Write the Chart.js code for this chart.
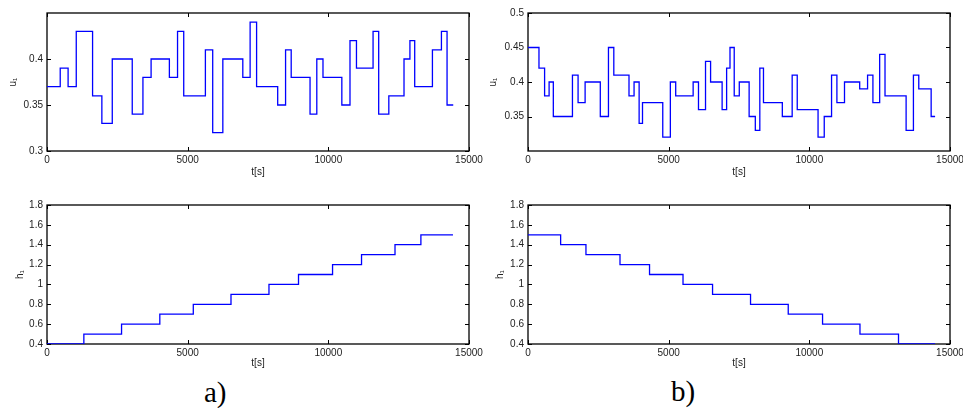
<!DOCTYPE html>
<html>
<head>
<meta charset="utf-8">
<script src="https://cdn.jsdelivr.net/npm/chart.js@4.4.0/dist/chart.umd.min.js"></script>
<style>
  body { margin: 0; background: #fff; width: 963px; height: 408px; position: relative; overflow: hidden; }
  canvas { position: absolute; }
  .tag { position: absolute; font-family: "Liberation Serif", "Times New Roman", serif; font-size: 29px; color: #000; line-height: 1; }
</style>
</head>
<body>
<canvas id="ua" width="500" height="180" style="left:0;top:0"></canvas>
<canvas id="ub" width="483" height="180" style="left:480px;top:0"></canvas>
<canvas id="ha" width="500" height="190" style="left:0;top:180px"></canvas>
<canvas id="hb" width="483" height="190" style="left:480px;top:180px"></canvas>
<div class="tag" style="left:204px;top:378px">a)</div>
<div class="tag" style="left:671px;top:377px">b)</div>
<script>
// time axis
const xTicks = [0, 5000, 10000, 15000];

// a) input u1: switching times [s] and held values
const uaTimes = [0, 470, 750, 1040, 1620, 1950, 2320, 3030, 3410, 3700,
  4350, 4640, 4860, 5630, 5890, 6250, 6960, 7220, 7450, 8200,
  8480, 8680, 9350, 9590, 9810, 10480, 10770, 11000, 11590, 11790,
  12150, 12690, 12900, 13070, 13700, 14020, 14220];
const uaValues = [0.37, 0.39, 0.37, 0.43, 0.36, 0.33, 0.40, 0.34, 0.38, 0.40,
  0.38, 0.43, 0.36, 0.41, 0.32, 0.40, 0.38, 0.44, 0.37, 0.35,
  0.41, 0.38, 0.34, 0.40, 0.38, 0.35, 0.42, 0.39, 0.43, 0.34,
  0.36, 0.40, 0.42, 0.37, 0.41, 0.43, 0.35];
const uaEnd = 14440;
const uaYTicks = [0.3, 0.35, 0.4];

// b) input u1
const ubTimes = [0, 390, 590, 750, 900, 1580, 1780, 2030, 2570, 2860,
  3050, 3590, 3770, 3950, 4070, 4790, 5060, 5250, 5870, 6060,
  6310, 6490, 6900, 7060, 7180, 7330, 7510, 7860, 8080, 8240,
  8370, 9040, 9390, 9570, 10310, 10530, 10790, 10980, 11250, 11790,
  12070, 12260, 12500, 12690, 13440, 13700, 13890, 14330];
const ubValues = [0.45, 0.42, 0.38, 0.40, 0.35, 0.41, 0.37, 0.40, 0.35, 0.45,
  0.41, 0.38, 0.40, 0.34, 0.37, 0.32, 0.40, 0.38, 0.40, 0.36,
  0.43, 0.40, 0.36, 0.42, 0.45, 0.38, 0.40, 0.35, 0.33, 0.42,
  0.37, 0.35, 0.41, 0.36, 0.32, 0.35, 0.41, 0.37, 0.40, 0.39,
  0.41, 0.37, 0.44, 0.38, 0.33, 0.41, 0.39, 0.35];
const ubEnd = 14470;
const ubYTicks = [0.3, 0.35, 0.4, 0.45, 0.5];

// a) level h1 (rising)
const haTimes = [0, 1310, 2650, 4010, 5200, 6540, 7890, 8940, 10150, 11180, 12370, 13290];
const haValues = [0.4, 0.5, 0.6, 0.7, 0.8, 0.9, 1.0, 1.1, 1.2, 1.3, 1.4, 1.5];
const haEnd = 14430;

// b) level h1 (falling)
const hbTimes = [0, 1160, 2060, 3270, 4320, 5510, 6560, 7910, 9250, 10470, 11800, 13170];
const hbValues = [1.5, 1.4, 1.3, 1.2, 1.1, 1.0, 0.9, 0.8, 0.7, 0.6, 0.5, 0.4];
const hbEnd = 14470;
const hYTicks = [0.4, 0.6, 0.8, 1, 1.2, 1.4, 1.6, 1.8];

// box + inward tick marks on all four sides, matlab style
const boxTicks = {
  id: 'boxTicks',
  beforeDatasetsDraw(chart) {
    const { ctx, chartArea: a, scales } = chart;
    ctx.save();
    ctx.strokeStyle = '#000';
    ctx.lineWidth = 1;
    ctx.beginPath();
    scales.x.ticks.forEach(t => {
      const px = Math.round(scales.x.getPixelForValue(t.value)) + 0.5;
      ctx.moveTo(px, a.bottom); ctx.lineTo(px, a.bottom - 4);
      ctx.moveTo(px, a.top); ctx.lineTo(px, a.top + 4);
    });
    scales.y.ticks.forEach(t => {
      const py = Math.round(scales.y.getPixelForValue(t.value)) + 0.5;
      ctx.moveTo(a.left, py); ctx.lineTo(a.left + 4, py);
      ctx.moveTo(a.right, py); ctx.lineTo(a.right - 4, py);
    });
    ctx.stroke();
    ctx.lineWidth = 1.3;
    ctx.strokeRect(a.left, a.top, a.right - a.left, a.bottom - a.top);
    ctx.restore();
  }
};

const tickFont = { family: '"Liberation Sans", Arial, sans-serif', size: 10 };

function makeChart(id, times, values, tEnd, yMin, yMax, yTicks, yLabel, box) {
  const points = times.map((t, i) => ({ x: t, y: values[i] }));
  points.push({ x: tEnd, y: values[values.length - 1] });
  new Chart(document.getElementById(id), {
    type: 'line',
    data: {
      datasets: [{
        data: points,
        stepped: true,
        borderColor: '#0000ff',
        borderWidth: 1.3,
        pointRadius: 0,
        fill: false
      }]
    },
    options: {
      responsive: false,
      animation: false,
      devicePixelRatio: 1,
      layout: { padding: { top: box.top, right: box.right, left: 0, bottom: 0 } },
      plugins: { legend: { display: false }, tooltip: { enabled: false } },
      scales: {
        x: {
          type: 'linear', min: 0, max: 15000,
          afterBuildTicks: s => { s.ticks = xTicks.map(v => ({ value: v })); },
          afterFit: s => { s.height = box.xh; s.paddingLeft = 0; s.paddingRight = 0; },
          ticks: { font: tickFont, color: '#222', padding: 3, maxRotation: 0, callback: v => String(v) },
          grid: { display: false, drawTicks: false },
          border: { display: false },
          title: { display: true, text: 't[s]', font: tickFont, color: '#222', padding: { top: 0, bottom: box.tPad } }
        },
        y: {
          type: 'linear', min: yMin, max: yMax,
          afterBuildTicks: s => { s.ticks = yTicks.map(v => ({ value: v })); },
          afterFit: s => { s.width = box.yw; s.paddingTop = 0; s.paddingBottom = 0; },
          ticks: { font: tickFont, color: '#222', padding: 4, callback: v => String(v) },
          grid: { display: false, drawTicks: false },
          border: { display: false },
          title: { display: true, text: yLabel, font: tickFont, color: '#222', padding: { top: box.yPad, bottom: 0 } }
        }
      }
    },
    plugins: [boxTicks]
  });
}

makeChart('ua', uaTimes, uaValues, uaEnd, 0.3, 0.45, uaYTicks, 'u₁',
  { top: 13, right: 31, xh: 29, yw: 47, tPad: 2, yPad: 7 });
makeChart('ub', ubTimes, ubValues, ubEnd, 0.3, 0.5, ubYTicks.slice(1), 'u₁',
  { top: 13, right: 13, xh: 29, yw: 48, tPad: 2, yPad: 7 });
makeChart('ha', haTimes, haValues, haEnd, 0.4, 1.8, hYTicks, 'h₁',
  { top: 25, right: 31, xh: 26, yw: 47, tPad: 1, yPad: 14 });
makeChart('hb', hbTimes, hbValues, hbEnd, 0.4, 1.8, hYTicks, 'h₁',
  { top: 25, right: 13, xh: 26, yw: 48, tPad: 1, yPad: 14 });
</script>
</body>
</html>
